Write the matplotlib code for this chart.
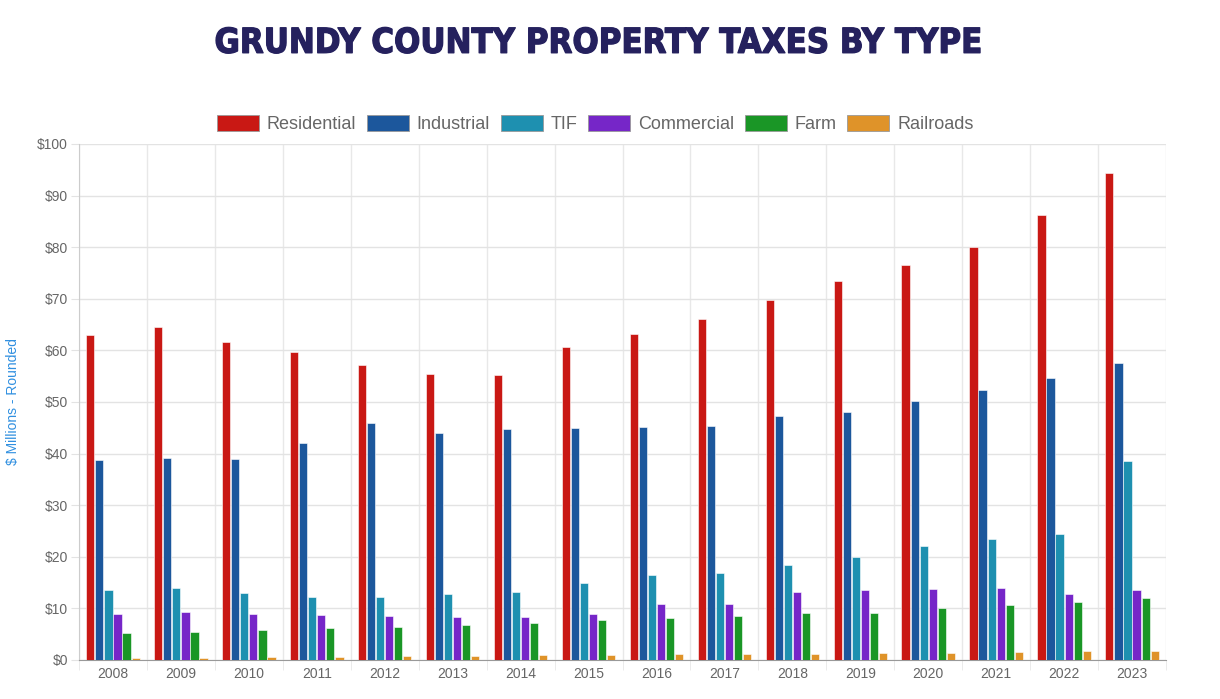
import matplotlib.pyplot as plt
import matplotlib.patheffects as pe
import numpy as np

# data ($ millions)
years = ['2008', '2009', '2010', '2011', '2012', '2013', '2014', '2015',
         '2016', '2017', '2018', '2019', '2020', '2021', '2022', '2023']
residential = [62.9, 64.6, 61.7, 59.6, 57.1, 55.5, 55.2, 60.6,
               63.1, 66.1, 69.8, 73.5, 76.6, 80.1, 86.3, 94.3]
industrial = [38.7, 39.1, 38.9, 42.0, 45.9, 43.9, 44.7, 44.9,
              45.1, 45.3, 47.2, 48.1, 50.1, 52.4, 54.7, 57.6]
tif = [13.5, 13.9, 13.0, 12.2, 12.2, 12.8, 13.2, 14.9,
       16.5, 16.8, 18.4, 19.9, 22.0, 23.5, 24.5, 38.5]
commercial = [8.9, 9.3, 8.9, 8.7, 8.5, 8.3, 8.3, 8.9,
              10.8, 10.8, 13.2, 13.6, 13.8, 14.0, 12.8, 13.6]
farm = [5.2, 5.4, 5.8, 6.2, 6.4, 6.8, 7.2, 7.7,
        8.1, 8.5, 9.1, 9.2, 10.0, 10.6, 11.3, 12.1]
railroads = [0.4, 0.4, 0.6, 0.6, 0.8, 0.8, 1.0, 1.0,
             1.2, 1.2, 1.2, 1.4, 1.4, 1.6, 1.8, 1.8]

series = [('Residential', residential, '#c91814'),
          ('Industrial', industrial, '#1c579c'),
          ('TIF', tif, '#1e90b0'),
          ('Commercial', commercial, '#7626c8'),
          ('Farm', farm, '#1a9626'),
          ('Railroads', railroads, '#df9329')]

plt.rcParams['font.family'] = ['Liberation Sans', 'DejaVu Sans']

fig = plt.figure(figsize=(12.2, 6.99), dpi=100)
ax = fig.add_axes([79/1220, 39/699, 1087/1220, 516/699])

x = np.arange(len(years))
slot = 0.8/len(series)
for i, (name, vals, col) in enumerate(series):
    off = -0.4 + slot*(i + 0.5)
    ax.bar(x + off, vals, width=slot*0.9, color=col, edgecolor='white',
           linewidth=0.4, label=name, zorder=3)

ax.set_xlim(-0.5, len(years) - 0.5)
ax.set_ylim(0, 100)
ax.set_yticks(np.arange(0, 101, 10))
ax.set_yticklabels(['$%d' % v for v in range(0, 101, 10)])
ax.set_xticks(x)
ax.set_xticklabels(years)
ax.set_xticks(np.arange(-0.5, len(years)), minor=True)

ax.grid(axis='y', color='#e3e3e3', linewidth=1, zorder=0)
ax.grid(axis='x', which='minor', color='#e8e8e8', linewidth=1, zorder=0)
ax.tick_params(axis='y', length=6, color='#e3e3e3', labelcolor='#666666',
               labelsize=10, pad=2)
ax.tick_params(axis='x', which='major', length=0, labelcolor='#666666',
               labelsize=10, pad=5)
ax.tick_params(axis='x', which='minor', length=7, color='#e8e8e8')

for s in ['top', 'right']:
    ax.spines[s].set_visible(False)
ax.spines['left'].set_color('#cccccc')
ax.spines['bottom'].set_color('#999999')

ax.set_ylabel('$ Millions - Rounded', color='#2f8fe0', fontsize=10)
ax.yaxis.set_label_coords(-0.054, 0.5)

leg = ax.legend(loc='lower center', bbox_to_anchor=(0.475, 1.0), ncol=6,
                frameon=False, fontsize=13, handlelength=2.3, handleheight=1.0,
                handletextpad=0.45, columnspacing=0.6, borderaxespad=0.2)
for t in leg.get_texts():
    t.set_color('#666666')
for h in leg.legend_handles:
    h.set_edgecolor('#999999')
    h.set_linewidth(0.6)

# heavy title, stroked a little to thicken the strokes
fig.text(0.491, 0.938, 'GRUNDY COUNTY PROPERTY TAXES BY TYPE', ha='center',
         va='center', fontsize=24.8, fontweight='bold', color='#25215e',
         family=['DejaVu Sans'], fontstretch='condensed',
         path_effects=[pe.withStroke(linewidth=0.9, foreground='#25215e')])

fig.savefig('out.png', dpi=100)
